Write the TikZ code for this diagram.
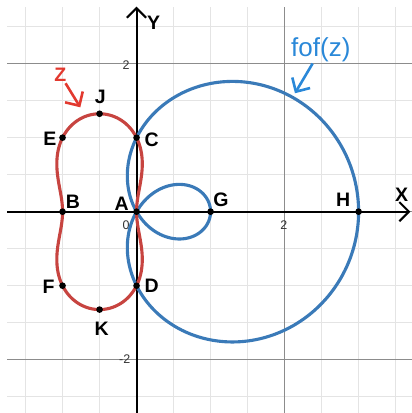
\documentclass[tikz,border=0pt]{standalone}
\usepackage{fontspec}
\setmainfont{Liberation Sans}
\usetikzlibrary{arrows.meta,positioning}
\definecolor{zred}{HTML}{C74440}
\definecolor{fblue}{HTML}{3A7AB8}
\definecolor{tagred}{HTML}{E2392F}
\definecolor{tagblue}{HTML}{2A88D8}
\definecolor{minorgrid}{HTML}{E4E4E4}
\definecolor{majorgrid}{HTML}{8C8C8C}
\tikzset{>={Straight Barb[length=1.3mm,width=2.6mm]},
  every node/.style={font=\fontsize{7.5}{8}\selectfont\bfseries,inner sep=.5pt},
  axis/.style={->,draw=black,line width=.8pt},
  minor/.style={draw=minorgrid,line width=.4pt},
  major/.style={draw=majorgrid,line width=.5pt},
  zcurve/.style={draw=zred,line width=1.2pt},
  fcurve/.style={draw=fblue,line width=1.2pt},
  dot/.style={circle,fill=black,inner sep=0pt,minimum size=.9mm},
  ticklabel/.style={font=\fontsize{4.8}{5}\selectfont,text=black!80},
  tagarrow/.style={-{Straight Barb[length=1.4mm,width=2.8mm]},line width=1pt}}
\begin{document}
\begin{tikzpicture}
\path[use as bounding box] (-1.845,-2.72) rectangle (3.71,2.86);
\draw[minor] (-1.75,-2.72) grid[step=.5] (3.72,2.76);
\draw[major] (-1.75,-2.72) grid[step=2] (3.72,2.76);
\coordinate (xstart) at (-1.75,0);\coordinate (xend) at (3.70,0);
\coordinate (ystart) at (0,-2.72);\coordinate (yend) at (0,2.77);
\draw[axis] (xstart)--(xend);\draw[axis] (ystart)--(yend);
\node (xlabel) at (3.58,.23) {X};\node (ylabel) at (.23,2.55) {Y};
\node[ticklabel] (ty2) at (-.14,1.98) {2};\node[ticklabel] (t0) at (-.14,-.18) {0};
\node[ticklabel] (tym2) at (-.16,-1.99) {-2};\node[ticklabel] (tx2) at (1.99,-.18) {2};
\draw[fcurve] plot[domain=0:360,samples=241,smooth] ({(1+2*cos(\x))*cos(\x)},{(1+2*cos(\x))*sin(\x)});
\draw[zcurve] plot[domain=0:360,samples=241,smooth]
  ({-.5+sqrt((-1.5*cos(2*\x)+sqrt(2.25*cos(2*\x)*cos(2*\x)+1.75))/2)*cos(\x)},
   {sqrt((-1.5*cos(2*\x)+sqrt(2.25*cos(2*\x)*cos(2*\x)+1.75))/2)*sin(\x)});
\foreach \t/\x/\y/\lx/\ly in {A/0/0/-.2/.11,B/-1/0/-.86/.13,C/0/1/.205/.97,D/0/-1/.205/-1,
  E/-1/1/-1.17/.98,F/-1/-1/-1.19/-1.01,J/-.5/1.3229/-.49/1.55,K/-.5/-1.3229/-.47/-1.58,
  G/1/0/1.14/.16,H/3/0/2.79/.16}
  {\node[dot] (\t) at (\x,\y) {};\node (l\t) at (\lx,\ly) {\t};}
\node[text=tagred] (ztag) at (-1.03,1.85) {Z};\coordinate (ztip) at (-.76,1.41);
\draw[tagarrow,tagred] (ztag)--(ztip);
\node[text=tagblue,font=\fontsize{10}{11}\selectfont] (ftag) at (2.49,2.19) {fof(z)};
\coordinate (ftip) at (2.14,1.6);
\draw[tagarrow,tagblue] (ftag)--(ftip);
\end{tikzpicture}
\end{document}
